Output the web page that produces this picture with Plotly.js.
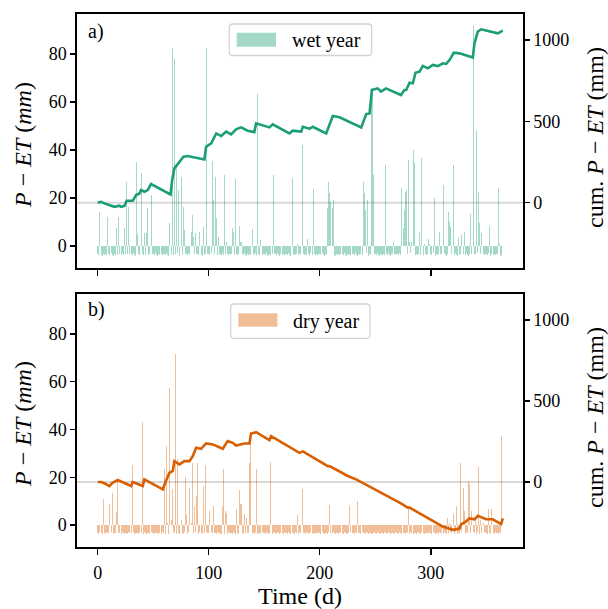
<!DOCTYPE html>
<html>
<head>
<meta charset="utf-8">
<script src="https://cdn.plot.ly/plotly-3.0.1.min.js"></script>
<style>html,body{margin:0;padding:0;background:#fff}#chart{width:608px;height:609px}</style>
</head>
<body>
<div id="chart"></div>
<script>
// ---------- DATA ----------
// Daily P - ET (mm), wet year, days 0..364
var wetPmET = [
 -3.4,-3.8,14.3,-3.6,-4.0,-3.3,-3.7,-3.5,-3.9,12.2,
 -3.4,-3.8,-3.1,-3.6,-4.0,-3.3,-3.7,7.4,-3.9,12.2,
 -3.4,-3.8,-3.1,-3.6,7.4,-3.3,26.5,-3.5,16.4,-3.2,
 -3.4,-3.8,-3.1,-3.6,-4.0,34.9,5.0,-3.5,-3.9,30.3,
 -3.4,-3.8,5.3,-3.6,5.6,16.0,-3.7,-3.5,21.2,-3.2,
 -3.4,-3.8,-3.1,-3.6,-4.0,-3.3,-3.7,-3.5,-3.9,-3.2,
 -3.4,-3.8,-3.1,-3.6,-4.0,9.4,-3.7,82.4,-3.9,77.8,
 -3.4,33.0,-3.1,23.3,-4.0,28.9,-3.7,16.4,6.7,-3.2,
 -3.4,-3.8,-3.1,-3.6,6.0,12.9,3.9,-3.5,5.3,-3.2,
 -3.4,-3.8,6.0,-3.6,-4.0,8.0,-3.7,-3.5,82.4,-3.2,
 -3.4,-3.8,-3.1,35.4,19.2,-3.3,28.9,11.5,-3.9,3.9,
 -3.4,-3.8,-3.1,-3.6,29.6,-3.3,1.5,-3.5,-3.9,-3.2,
 -3.4,7.4,6.0,-3.6,27.9,-3.3,-3.7,-3.5,8.3,1.8,
 -3.4,-3.8,-3.1,-3.6,-4.0,-3.3,-3.7,-3.5,-3.9,7.1,
 -3.4,-3.8,-3.1,-3.6,63.3,-3.3,-3.7,2.5,-3.9,-3.2,
 -3.4,-3.8,-3.1,-3.6,-4.0,-3.3,-3.7,-3.5,29.6,-3.2,
 -3.4,-3.8,-3.1,-3.6,-4.0,-3.3,-3.7,-3.5,-3.9,-3.2,
 -3.4,-3.8,-3.1,-3.6,-4.0,28.2,-3.7,-3.5,-3.9,-3.2,
 1.0,-3.8,-3.1,-3.6,42.0,-3.3,-3.7,-3.5,-3.9,2.8,
 -3.4,-3.8,-3.1,-3.6,23.8,-3.3,-3.7,-3.5,-3.9,-3.2,
 -3.4,-3.8,-3.1,-3.6,-4.0,-3.3,-3.7,15.7,26.5,22.2,
 18.5,15.7,19.2,-3.6,-4.0,-3.3,-3.7,-3.5,-3.9,-3.2,
 -3.4,-3.8,-3.1,-3.6,-4.0,-3.3,-3.7,-3.5,-3.9,-3.2,
 -3.4,-3.8,-3.1,-3.6,-4.0,-3.3,-3.7,-3.5,-3.9,26.5,
 22.2,15.0,-3.1,19.2,-4.0,-3.3,-3.7,65.7,29.6,-3.2,
 -3.4,-3.8,-3.1,-3.6,-4.0,-3.3,-3.7,-3.5,-3.9,33.8,
 -3.4,-3.8,-3.1,-3.6,-4.0,-3.3,1.5,-3.5,-3.9,-3.2,
 -3.4,-3.8,-3.1,-3.6,24.0,7.4,15.0,22.6,23.3,-3.2,
 35.8,1.5,-3.1,1.5,40.0,34.4,-3.7,-3.5,-3.9,-3.2,
 6.0,-3.8,36.8,-3.6,1.0,-3.3,-3.7,-3.5,2.8,1.0,
 -3.4,-3.8,-3.1,19.9,-4.0,-3.3,-3.7,-3.5,6.0,-3.2,
 -3.4,25.4,-3.1,-3.6,-4.0,-3.3,14.3,10.1,8.0,-3.2,
 33.8,-3.8,-3.1,-3.6,-4.0,3.2,-3.7,-3.5,4.6,-3.2,
 6.0,-3.8,-3.1,-3.6,-4.0,-3.3,13.3,-3.5,91.7,-3.2,
 -3.4,48.3,-3.1,22.6,9.4,-3.3,5.3,-3.5,-3.9,-3.2,
 -3.4,-3.8,-3.1,8.3,-4.0,-3.3,-3.7,-3.5,-3.9,-3.2,
 -3.4,24.0,1.0,-3.6,-4.0
];
// Daily P - ET (mm), dry year, days 0..364
var dryPmET = [
 -3.3,-3.6,-3.0,-3.5,-3.8,11.1,-3.4,-3.7,-3.1,-3.5,
 -3.3,9.0,-3.0,13.6,-3.8,-3.2,-3.4,5.3,18.5,-3.5,
 -3.3,-3.6,-3.0,-3.5,-3.8,-3.2,-3.4,-3.7,-3.1,-3.5,
 -3.3,25.0,-3.0,-3.5,-3.8,-3.2,-3.4,-3.7,-3.1,-3.5,
 43.0,-3.6,-3.0,-3.5,-3.8,-3.2,-3.4,-3.7,-3.1,-3.5,
 -3.3,-3.6,-3.0,-3.5,-3.8,-3.2,-3.4,-3.7,-3.1,-3.5,
 23.3,-3.6,33.0,1.0,-3.8,57.4,2.0,15.0,-3.1,-3.5,
 71.7,-3.6,27.5,-3.5,-3.8,2.0,-3.4,-3.7,-3.1,19.9,
 4.0,-3.6,-3.0,15.7,1.0,26.0,-3.4,8.0,-3.1,12.2,
 26.0,-3.6,-3.0,-3.5,-3.8,16.4,-3.4,25.0,-3.1,-3.5,
 -3.3,6.0,-3.0,-3.5,8.0,-3.2,-3.4,-3.7,-3.1,-3.5,
 -3.3,-3.6,8.0,23.3,-3.8,6.0,5.0,-3.7,-3.1,-3.5,
 -3.3,-3.6,-3.0,-3.5,-3.8,6.7,-3.4,-3.7,14.6,9.0,
 -3.3,-3.6,4.5,-3.5,3.0,-3.2,-3.4,25.8,38.3,-3.5,
 -3.3,-3.6,-3.0,23.3,-3.8,-3.2,-3.4,-3.7,-3.1,-3.5,
 -3.3,-3.6,-3.0,-3.5,-3.8,-3.2,26.5,-3.7,-3.1,-3.5,
 -3.3,-3.6,-3.0,-3.5,-3.8,-3.2,-3.4,-3.7,-3.1,-3.5,
 -3.3,-3.6,-3.0,-3.5,-3.8,-3.2,-3.4,-3.7,-3.1,-3.5,
 4.0,-3.6,-3.0,-3.5,15.0,-3.2,-3.4,-3.7,-3.1,-3.5,
 -3.3,-3.6,-3.0,-3.5,-3.8,-3.2,-3.4,-3.7,-3.1,-3.5,
 -3.3,-3.6,-3.0,-3.5,-3.8,-3.2,-3.4,-3.7,-3.1,8.3,
 -3.3,-3.6,-3.0,-3.5,-3.8,-3.2,-3.4,-3.7,-3.1,-3.5,
 -3.3,-3.6,-3.0,-3.5,-3.8,-3.2,-3.4,8.0,-3.1,-3.5,
 -3.3,-3.6,-3.0,-3.5,10.1,-3.2,-3.4,-3.7,-3.1,-3.5,
 -3.3,-3.6,-3.0,-3.5,-3.8,-3.2,-3.4,-3.7,-3.1,-3.5,
 -3.3,-3.6,-3.0,-3.5,-3.8,-3.2,-3.4,-3.7,-3.1,-3.5,
 -3.3,-3.6,-3.0,-3.5,-3.8,-3.2,-3.4,-3.7,-3.1,-3.5,
 -3.3,-3.6,-3.0,-3.5,-3.8,-3.2,-3.4,-3.7,-3.1,-3.5,
 6.7,-3.6,-3.0,-3.5,-3.8,-3.2,-3.4,-3.7,-3.1,-3.5,
 -3.3,-3.6,-3.0,-3.5,-3.8,-3.2,-3.4,-3.7,-3.1,-3.5,
 -3.3,-3.6,-3.0,-3.5,-3.8,-3.2,-3.4,-3.7,-3.1,-3.5,
 -3.3,-3.6,-3.0,-3.5,-3.8,2.8,-3.4,1.0,-3.1,-3.5,
 4.6,-3.6,-3.0,8.0,-3.8,-3.2,-3.4,25.8,-3.1,15.3,
 6.0,-3.6,-3.0,-3.5,18.5,17.0,-3.4,6.0,-3.1,-3.5,
 2.0,-3.6,-3.0,24.4,-3.8,2.0,-3.4,1.0,-3.1,-3.5,
 -3.3,-3.6,6.7,-3.5,-3.8,6.7,-3.4,-3.7,-3.1,-3.5,
 -3.3,-3.6,-3.0,-3.5,37.2
];
// Cumulative P - ET (mm), read at the vertices of the drawn lines
var wetCumDays = [0,3,6,9,15,19.5,21,24,26,31.5,34.6,37.6,39,42,45,48,65.5,67,69,70.6,73.6,75,77.2,81,87,96,97.6,102.2,106.7,111.2,115.7,120.1,124.6,129.1,135,141,142.6,154.6,157.6,172.6,175.6,183.2,184.7,190.7,193.7,205.7,211.7,217.7,237.3,241.8,244.8,246.9,252.1,255.1,259.6,273.1,276.1,277.8,280.8,283.8,286.2,289.8,292.8,297.3,301.8,306.3,310.8,313.8,316.8,320.7,325.8,337.8,339.3,342.3,345.3,352.8,360.3,364.8];
var wetCumVals = [0,6,-4,-10,-25,-18,-25,-20,12,12,47,57,78,68,78,115,51,139,211,225,252,266,283,287,279,266,344,365,426,410,437,420,451,463,443,434,488,463,482,426,443,437,467,455,467,426,533,525,463,545,549,693,703,683,703,662,693,693,738,734,799,806,841,826,847,840,857,853,877,922,918,893,980,1052,1066,1052,1041,1058];
var dryCumDays = [0,3,6,10.5,12,13.5,18,30,31.5,40.5,42,58.6,61,64.6,67.6,69,73.6,78,82.6,85.6,88.6,93,97.6,103.6,112.6,117,121.6,124.6,132,136.6,138.1,142.6,154.6,156.1,181.6,183.2,184.7,207.2,208.7,225.2,232.7,271.8,279.3,280.8,310.8,319.8,325.8,327.3,330.3,334.8,339.3,342.3,345.3,349.8,355.8,363.3,364.8];
var dryCumVals = [0,0,-8,-25,-14,-4,12,-25,0,-25,16,-45,0,57,68,129,109,129,129,160,211,205,238,232,205,252,242,225,238,238,299,307,258,283,180,185,189,98,98,37,16,-127,-158,-158,-275,-295,-287,-260,-250,-225,-230,-209,-219,-230,-230,-260,-225];
var xTicks = [0,100,200,300];
var yTicks = [0,20,40,60,80];
var y2Ticks = [0,500,1000];
var legendLabels = ['wet year','dry year'];
var panelLabels = ['a)','b)'];

// ---------- STYLE / LAYOUT ----------
var FONT = 'Liberation Serif, Times New Roman, serif';
var wetLine = '#1b9e77', dryLine = '#d95f02';
var wetBar = 'rgba(27,158,119,0.4)', dryBar = 'rgba(217,95,2,0.4)';
var W = 608, H = 609, ML = 77, MR = 85, MT = 14, MB = 62;
var PW = W - ML - MR, PH = H - MT - MB;
function px2x(p){ return (p - ML) / PW; }
function px2y(p){ return (H - MB - p) / PH; }
function dayIdx(arr){ var d=[]; for (var i=0;i<arr.length;i++) d.push(i); return d; }
function roundBox(x0,y0,x1,y1,r){
  var a=px2x(x0), b=px2x(x1), t=px2y(y0), u=px2y(y1), rx=r/PW, ry=r/PH;
  return 'M'+(a+rx)+','+t+' L'+(b-rx)+','+t+' Q'+b+','+t+' '+b+','+(t-ry)+
         ' L'+b+','+(u+ry)+' Q'+b+','+u+' '+(b-rx)+','+u+
         ' L'+(a+rx)+','+u+' Q'+a+','+u+' '+a+','+(u+ry)+
         ' L'+a+','+(t-ry)+' Q'+a+','+t+' '+(a+rx)+','+t+' Z';
}

var BW = 0.92;
var traces = [
  {type:'bar', x:dayIdx(wetPmET), y:wetPmET, width:BW, marker:{color:wetBar, line:{width:0}}, xaxis:'x', yaxis:'y', showlegend:false, hoverinfo:'skip'},
  {type:'scatter', mode:'lines', x:wetCumDays, y:wetCumVals, line:{color:wetLine, width:2.6}, xaxis:'x', yaxis:'y2', showlegend:false},
  {type:'bar', x:dayIdx(dryPmET), y:dryPmET, width:BW, marker:{color:dryBar, line:{width:0}}, xaxis:'x2', yaxis:'y3', showlegend:false, hoverinfo:'skip'},
  {type:'scatter', mode:'lines', x:dryCumDays, y:dryCumVals, line:{color:dryLine, width:2.6}, xaxis:'x2', yaxis:'y4', showlegend:false}
];

var tickFont = {family:FONT, size:18, color:'#000'};
var xr = [-18.7, 383];
var yr = [-9.2, 96.7], y2r = [-401, 1160];
var domA = [px2y(268), 1], domB = [0, px2y(294)];
function xax(anchor, labels){
  return {domain:[0,1], anchor:anchor, range:xr, tickvals:xTicks, ticks:'outside', ticklen:6, tickwidth:1.3,
    tickcolor:'#000', showticklabels:labels, tickfont:tickFont, ticklabelstandoff:3, showline:true, linecolor:'#000', linewidth:1.6,
    mirror:true, showgrid:false, zeroline:false};
}
function yax(anchor, dom){
  return {domain:dom, anchor:anchor, range:yr, tickvals:yTicks, ticks:'outside', ticklen:5, tickwidth:1.3,
    tickcolor:'#000', tickfont:tickFont, showline:true, linecolor:'#000', linewidth:1.6, showgrid:false, zeroline:false};
}
function y2ax(over, anchor){
  return {overlaying:over, anchor:anchor, side:'right', range:y2r, tickvals:y2Ticks, ticks:'outside', ticklen:5, tickwidth:1.3,
    tickcolor:'#000', tickfont:tickFont, showline:true, linecolor:'#000', linewidth:1.6, showgrid:false, zeroline:false};
}
var xa = xax('y', false);
var xb = xax('y3', true);
xb.title = {text:'Time (d)', font:{family:FONT, size:24, color:'#000'}, standoff:4};

var shapes = [
  {type:'line', xref:'x domain', yref:'y2', x0:0, x1:1, y0:0, y1:0, line:{color:'rgba(200,200,200,0.7)', width:2}, layer:'below'},
  {type:'line', xref:'x2 domain', yref:'y4', x0:0, x1:1, y0:0, y1:0, line:{color:'rgba(200,200,200,0.7)', width:2}, layer:'below'},
  {type:'path', xref:'paper', yref:'paper', path:roundBox(229.3,24,371.7,55.5,3.5), fillcolor:'rgba(255,255,255,0.85)', line:{color:'#d3d3d3', width:1.3}},
  {type:'rect', xref:'paper', yref:'paper', x0:px2x(236.7), x1:px2x(276), y0:px2y(46.7), y1:px2y(32.7), fillcolor:wetBar, line:{width:0}},
  {type:'path', xref:'paper', yref:'paper', path:roundBox(230.7,304,370,338.3,3.5), fillcolor:'rgba(255,255,255,0.85)', line:{color:'#d3d3d3', width:1.3}},
  {type:'rect', xref:'paper', yref:'paper', x0:px2x(238.3), x1:px2x(277.3), y0:px2y(326.7), y1:px2y(313.3), fillcolor:dryBar, line:{width:0}}
];

var annFont = {family:FONT, size:20, color:'#000'};
var titleFont = {family:FONT, size:24, color:'#000'};
var leftTitle = '<i>P</i> − <i>ET</i> (<i>mm</i>)';
var rightTitle = 'cum. <i>P</i> − <i>ET</i> (mm)';
var annotations = [
  {xref:'paper', yref:'paper', x:px2x(290), y:px2y(40), xanchor:'left', yanchor:'middle', text:legendLabels[0], showarrow:false, font:annFont},
  {xref:'paper', yref:'paper', x:px2x(291), y:px2y(321), xanchor:'left', yanchor:'middle', text:legendLabels[1], showarrow:false, font:annFont},
  {xref:'paper', yref:'paper', x:px2x(86), y:px2y(31), xanchor:'left', yanchor:'middle', text:panelLabels[0], showarrow:false, font:{family:FONT, size:20, color:'#000'}},
  {xref:'paper', yref:'paper', x:px2x(86), y:px2y(309), xanchor:'left', yanchor:'middle', text:panelLabels[1], showarrow:false, font:{family:FONT, size:20, color:'#000'}},
  {xref:'paper', yref:'paper', x:px2x(23), y:px2y(145), xanchor:'center', yanchor:'middle', textangle:-90, text:leftTitle, showarrow:false, font:titleFont},
  {xref:'paper', yref:'paper', x:px2x(23), y:px2y(424), xanchor:'center', yanchor:'middle', textangle:-90, text:leftTitle, showarrow:false, font:titleFont},
  {xref:'paper', yref:'paper', x:px2x(595), y:px2y(138), xanchor:'center', yanchor:'middle', textangle:-90, text:rightTitle, showarrow:false, font:titleFont},
  {xref:'paper', yref:'paper', x:px2x(595), y:px2y(418), xanchor:'center', yanchor:'middle', textangle:-90, text:rightTitle, showarrow:false, font:titleFont}
];

var layout = {
  width:W, height:H, margin:{l:ML, r:MR, t:MT, b:MB, pad:0},
  paper_bgcolor:'#fff', plot_bgcolor:'#fff', bargap:0, showlegend:false,
  font:{family:FONT, size:18, color:'#000'},
  xaxis:xa, xaxis2:xb,
  yaxis:yax('x', domA), yaxis2:y2ax('y','x'),
  yaxis3:yax('x2', domB), yaxis4:y2ax('y3','x2'),
  shapes:shapes, annotations:annotations
};
Plotly.newPlot('chart', traces, layout, {displayModeBar:false, staticPlot:true});
</script>
</body>
</html>
